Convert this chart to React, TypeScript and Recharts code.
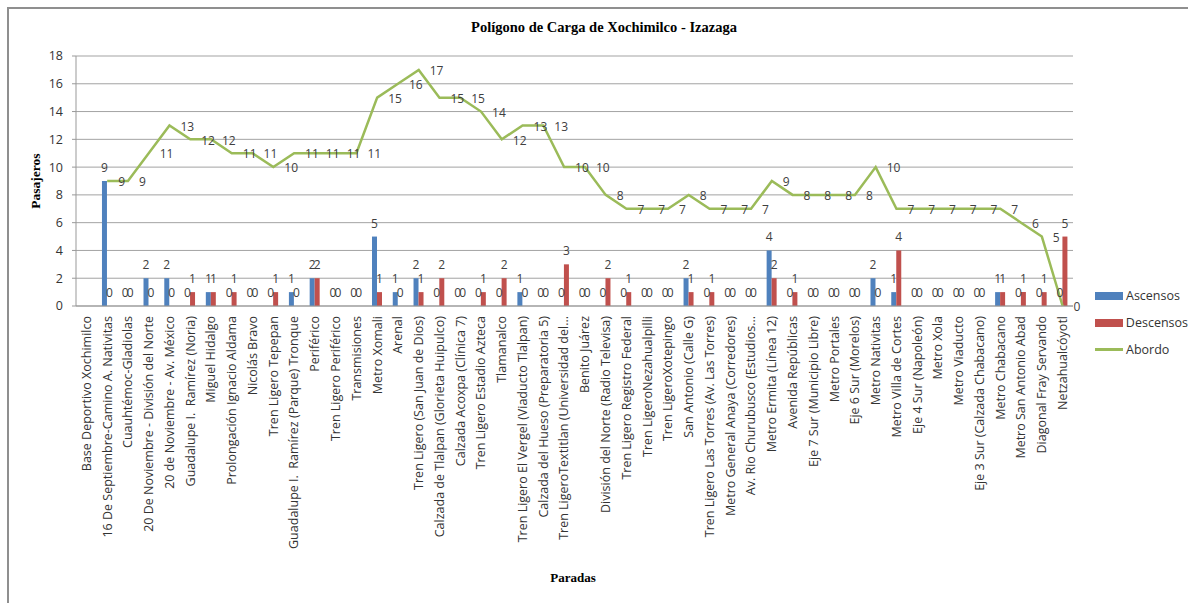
import React from 'react';
import {
  ComposedChart,
  Bar,
  Line,
  XAxis,
  YAxis,
  CartesianGrid,
  Legend,
  LabelList,
} from 'recharts';

const paradas = [
  'Base Deportivo Xochimilco',
  '16 De Septiembre-Camino A. Nativitas',
  'Cuauhtémoc-Gladiolas',
  '20 De Noviembre - División del Norte',
  '20 de Noviembre - Av. México',
  'Guadalupe I.  Ramírez (Noria)',
  'Miguel Hidalgo',
  'Prolongación Ignacio Aldama',
  'Nicolás Bravo',
  'Tren Ligero Tepepan',
  'Guadalupe I.  Ramírez (Parque) Tronque',
  'Periférico',
  'Tren Ligero Periférico',
  'Transmisiones',
  'Metro Xomali',
  'Arenal',
  'Tren Ligero (San Juan de Dios)',
  'Calzada de Tlalpan (Glorieta Huipulco)',
  'Calzada Acoxpa (Clínica 7)',
  'Tren Ligero Estadio Azteca',
  'Tlamanalco',
  'Tren Ligero El Vergel (Viaducto Tlalpan)',
  'Calzada del Hueso (Preparatoria 5)',
  'Tren LigeroTextitlan (Universidad del...',
  'Benito Juárez',
  'División del Norte (Radio Televisa)',
  'Tren Ligero Registro Federal',
  'Tren LigeroNezahualpilli',
  'Tren LigeroXotepingo',
  'San Antonio (Calle G)',
  'Tren Ligero Las Torres (Av. Las Torres)',
  'Metro General Anaya (Corredores)',
  'Av. Rio Churubusco (Estudios...',
  'Metro Ermita (Línea 12)',
  'Avenida Repúblicas',
  'Eje 7 Sur (Municipio Libre)',
  'Metro Portales',
  'Eje 6 Sur (Morelos)',
  'Metro Nativitas',
  'Metro Villa de Cortes',
  'Eje 4 Sur (Napoleón)',
  'Metro Xola',
  'Metro Viaducto',
  'Eje 3 Sur (Calzada Chabacano)',
  'Metro Chabacano',
  'Metro San Antonio Abad',
  'Diagonal Fray Servando',
  'Netzahualcóyotl',
];

const ascensos = [
  null, 9, 0, 2, 2, 0, 1, 0, 0, 0, 1, 2, 0, 0, 5, 1, 2, 0, 0, 0, 0, 1, 0, 0,
  0, 0, 0, 0, 0, 2, 0, 0, 0, 4, 0, 0, 0, 0, 2, 1, 0, 0, 0, 0, 1, 0, 0, 0,
];

const descensos = [
  null, 0, 0, 0, 0, 1, 1, 1, 0, 1, 0, 2, 0, 0, 1, 0, 1, 2, 0, 1, 2, 0, 0, 3,
  0, 2, 1, 0, 0, 1, 1, 0, 0, 2, 1, 0, 0, 0, 0, 4, 0, 0, 0, 0, 1, 1, 1, 5,
];

const abordo = [
  null, 9, 9, 11, 13, 12, 12, 11, 11, 10, 11, 11, 11, 11, 15, 16, 17, 15, 15, 14, 12, 13, 13, 10,
  10, 8, 7, 7, 7, 8, 7, 7, 7, 9, 8, 8, 8, 8, 10, 7, 7, 7, 7, 7, 7, 6, 5, 0,
];

const yTicks = [0, 2, 4, 6, 8, 10, 12, 14, 16, 18];

const BLUE = '#4F81BD';
const RED = '#C0504D';
const GREEN = '#9BBB59';
const SANS = '"Open Sans", sans-serif';
const SERIF = '"Liberation Serif", "Times New Roman", serif';

const chartData = paradas.map((name, i) => ({
  name,
  Ascensos: ascensos[i],
  Descensos: descensos[i],
  Abordo: abordo[i],
}));

const XTick = (props: any) => {
  const { x, y, payload } = props;
  return (
    <text
      x={x}
      y={y}
      transform={`rotate(-90, ${x}, ${y})`}
      textAnchor="end"
      dy="0.35em"
      fontSize={12.5}
      fontFamily={SANS}
      fill="#333"
      style={{ whiteSpace: 'pre' }}
    >
      {payload.value}
    </text>
  );
};

const barLabel = (props: any) => {
  const { x, y, width, value } = props;
  if (value == null) return null;
  return (
    <text
      x={x + width / 2}
      y={y - 9}
      textAnchor="middle"
      fontSize={12}
      fontFamily={SANS}
      fill="#404040"
    >
      {value}
    </text>
  );
};

const lineLabel = (props: any) => {
  const { x, y, value } = props;
  if (value == null || x == null) return null;
  return (
    <text
      x={x + 11}
      y={y + 1}
      dy="0.35em"
      textAnchor="start"
      fontSize={12}
      fontFamily={SANS}
      fill="#404040"
    >
      {value}
    </text>
  );
};

const renderLegend = () => (
  <div style={{ fontFamily: SANS, fontSize: 12.5, color: '#333' }}>
    <div style={{ display: 'flex', alignItems: 'center', height: 27 }}>
      <span style={{ width: 28, height: 8, background: BLUE, marginRight: 3 }} />
      Ascensos
    </div>
    <div style={{ display: 'flex', alignItems: 'center', height: 27 }}>
      <span style={{ width: 28, height: 8, background: RED, marginRight: 3 }} />
      Descensos
    </div>
    <div style={{ display: 'flex', alignItems: 'center', height: 27 }}>
      <span style={{ width: 28, height: 2.5, background: GREEN, marginRight: 3 }} />
      Abordo
    </div>
  </div>
);

export default function App() {
  return (
    <div
      style={{
        position: 'absolute',
        left: 0,
        top: 0,
        width: 1188,
        height: 603,
        overflow: 'hidden',
        background: '#fff',
      }}
    >
      {/* chart frame, only left and top edges are visible */}
      <div
        style={{
          position: 'absolute',
          left: 7,
          top: 7,
          width: 1400,
          height: 800,
          border: '2px solid #8f8f8f',
        }}
      />
      <div
        style={{
          position: 'absolute',
          left: 0,
          top: 19,
          width: 1208,
          textAlign: 'center',
          fontFamily: SERIF,
          fontWeight: 'bold',
          fontSize: 14.5,
          color: '#000',
        }}
      >
        Polígono de Carga de Xochimilco - Izazaga
      </div>
      <div
        style={{
          position: 'absolute',
          left: 36,
          top: 181,
          transform: 'translate(-50%, -50%) rotate(-90deg)',
          fontFamily: SERIF,
          fontWeight: 'bold',
          fontSize: 13.5,
          color: '#000',
          whiteSpace: 'nowrap',
        }}
      >
        Pasajeros
      </div>
      <div
        style={{
          position: 'absolute',
          left: 573,
          top: 578,
          transform: 'translate(-50%, -50%)',
          fontFamily: SERIF,
          fontWeight: 'bold',
          fontSize: 13,
          color: '#000',
        }}
      >
        Paradas
      </div>
      <ComposedChart
        width={1188}
        height={603}
        data={chartData}
        margin={{ top: 56, right: 115, left: 0, bottom: 0 }}
        barCategoryGap="25%"
        barGap={0}
      >
        <CartesianGrid vertical={false} stroke="#a3a3a3" />
        <XAxis
          dataKey="name"
          interval={0}
          height={297}
          tick={<XTick />}
          tickLine={false}
          tickSize={6}
          tickMargin={4}
          axisLine={{ stroke: '#999' }}
        />
        <YAxis
          width={76}
          domain={[0, 18]}
          ticks={yTicks}
          tickSize={4}
          tickMargin={9}
          tickLine={{ stroke: '#999' }}
          axisLine={{ stroke: '#999' }}
          tick={{ fontSize: 12.5, fontFamily: SANS, fill: '#333' }}
        />
        <Legend
          layout="vertical"
          align="center"
          verticalAlign="middle"
          wrapperStyle={{ left: 1095, top: 282, width: 93 }}
          content={renderLegend}
        />
        <Bar dataKey="Ascensos" fill={BLUE} minPointSize={0.01} isAnimationActive={false}>
          <LabelList dataKey="Ascensos" content={barLabel} />
        </Bar>
        <Bar dataKey="Descensos" fill={RED} minPointSize={0.01} isAnimationActive={false}>
          <LabelList dataKey="Descensos" content={barLabel} />
        </Bar>
        <Line
          type="linear"
          dataKey="Abordo"
          stroke={GREEN}
          strokeWidth={2.5}
          dot={false}
          isAnimationActive={false}
        >
          <LabelList dataKey="Abordo" content={lineLabel} />
        </Line>
      </ComposedChart>
    </div>
  );
}
